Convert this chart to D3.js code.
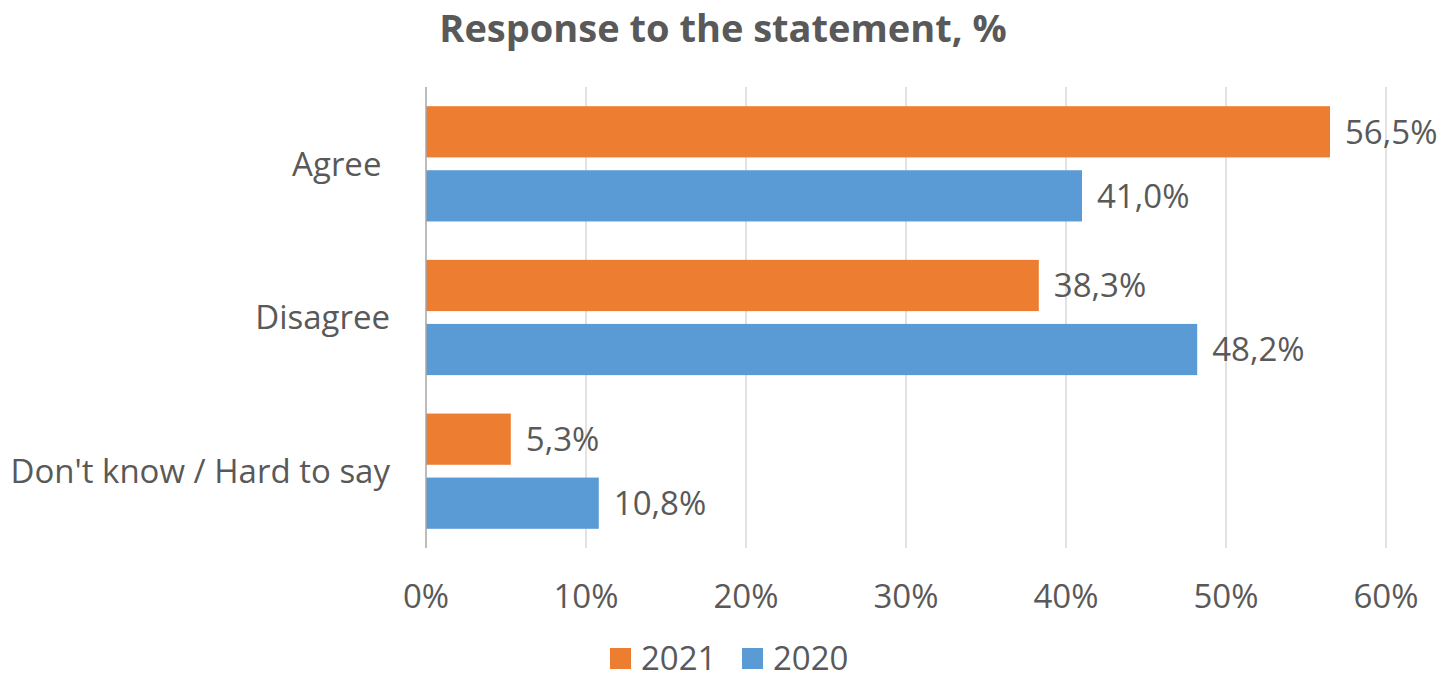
<!DOCTYPE html>
<html>
<head>
<meta charset="utf-8">
<script src="https://cdn.jsdelivr.net/npm/d3@7"></script>
<style>
  body { margin: 0; background: #fff; }
  text { font-family: "Open Sans", "Noto Sans", sans-serif; fill: #595959; }
</style>
</head>
<body>
<script>
var categories = ["Agree ", "Disagree", "Don't know / Hard to say"];
var years = ["2021", "2020"];
var values2021 = [56.5, 38.3, 5.3];
var values2020 = [41.0, 48.2, 10.8];
var xTicks = [0, 10, 20, 30, 40, 50, 60];
var colors = ["#ED7D31", "#5B9BD5"];

var width = 1443,
    height = 679,
    margin = {top: 87, right: 57, bottom: 131, left: 426},
    fontSize = "33px";

var data = categories.map(function(c, i) {
  return {cat: c, vals: [values2021[i], values2020[i]]};
});

var svg = d3.select("body").append("svg")
  .attr("width", width)
  .attr("height", height);

var x = d3.scaleLinear()
  .domain([0, 60])
  .range([margin.left, width - margin.right]);

var y0 = d3.scaleBand()
  .domain(categories)
  .range([margin.top, height - margin.bottom])
  .paddingInner(0.25)
  .paddingOuter(0.125);

var y1 = d3.scaleBand()
  .domain(years)
  .range([0, y0.bandwidth()])
  .paddingInner(0.2);

var fmt = function(v) { return d3.format(".1f")(v).replace(".", ",") + "%"; };

// gridlines
svg.append("g")
  .selectAll("line")
  .data(xTicks.slice(1))
  .join("line")
    .attr("x1", function(d) { return x(d); })
    .attr("x2", function(d) { return x(d); })
    .attr("y1", margin.top)
    .attr("y2", height - margin.bottom)
    .attr("stroke", "#d9d9d9")
    .attr("stroke-width", 1.5);

// x tick labels
svg.append("g")
  .selectAll("text")
  .data(xTicks)
  .join("text")
    .attr("x", function(d) { return x(d); })
    .attr("y", 608)
    .attr("text-anchor", "middle")
    .style("font-size", fontSize)
    .text(function(d) { return d + "%"; });

// bars
var groups = svg.append("g")
  .selectAll("g")
  .data(data)
  .join("g")
    .attr("transform", function(d) { return "translate(0," + y0(d.cat) + ")"; });

groups.selectAll("rect")
  .data(function(d) { return d.vals; })
  .join("rect")
    .attr("x", x(0))
    .attr("y", function(d, i) { return y1(years[i]); })
    .attr("width", function(d) { return x(d) - x(0); })
    .attr("height", y1.bandwidth())
    .attr("fill", function(d, i) { return colors[i]; });

groups.selectAll("text")
  .data(function(d) { return d.vals; })
  .join("text")
    .attr("x", function(d) { return x(d) + 15; })
    .attr("y", function(d, i) { return y1(years[i]) + y1.bandwidth() / 2; })
    .attr("dy", "0.36em")
    .style("font-size", fontSize)
    .text(fmt);

// y axis line
svg.append("line")
  .attr("x1", x(0)).attr("x2", x(0))
  .attr("y1", margin.top).attr("y2", height - margin.bottom)
  .attr("stroke", "#a6a6a6")
  .attr("stroke-width", 1.5);

// category labels
svg.append("g")
  .selectAll("text")
  .data(categories)
  .join("text")
    .attr("x", 390)
    .attr("y", function(d) { return y0(d) + y0.bandwidth() / 2; })
    .attr("dy", "0.36em")
    .attr("text-anchor", "end")
    .style("font-size", fontSize)
    .style("white-space", "pre")
    .text(function(d) { return d; });

// title
svg.append("text")
  .attr("x", 723)
  .attr("y", 42)
  .attr("text-anchor", "middle")
  .style("font-size", "38px")
  .style("font-weight", "bold")
  .text("Response to the statement, %");

// legend
var legend = svg.append("g")
  .selectAll("g")
  .data(years)
  .join("g")
    .attr("transform", function(d, i) { return "translate(" + (610 + i * 132) + ",648)"; });

legend.append("rect")
  .attr("width", 21)
  .attr("height", 21)
  .attr("fill", function(d, i) { return colors[i]; });

legend.append("text")
  .attr("x", 31)
  .attr("y", 22)
  .style("font-size", fontSize)
  .text(function(d) { return d; });
</script>
</body>
</html>
